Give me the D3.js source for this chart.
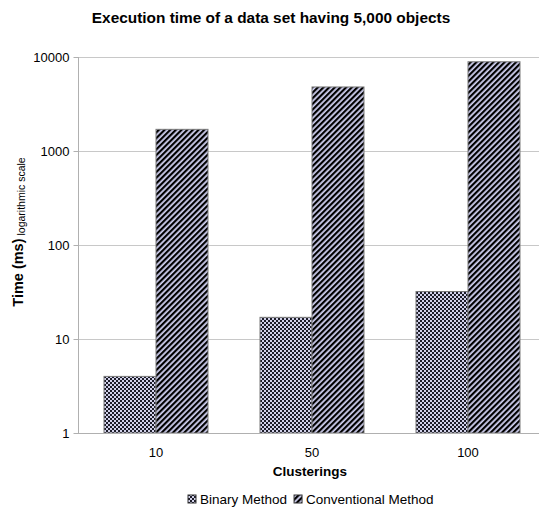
<!DOCTYPE html>
<html>
<head>
<meta charset="utf-8">
<script src="https://cdn.jsdelivr.net/npm/d3@7"></script>
<style>
  body { margin: 0; background: #fff; }
  text { font-family: "Liberation Sans", Arial, sans-serif; }
</style>
</head>
<body>
<div id="chart"></div>
<script>
// execution times (ms)
const clusterings = ["10", "50", "100"];
const seriesNames = ["Binary Method", "Conventional Method"];
const binaryTimes = [4, 17, 32];
const conventionalTimes = [1700, 4800, 8900];
const yTicks = [1, 10, 100, 1000, 10000];

const width = 539, height = 517;
const margin = {top: 57, bottom: 84, left: 78};
const step = 156; // the plot runs a little past the right edge of the picture

const data = clusterings.map((c, i) => ({
  cat: c,
  values: [binaryTimes[i], conventionalTimes[i]]
}));

const svg = d3.select("#chart").append("svg")
  .attr("width", width)
  .attr("height", height);

// fill patterns
const defs = svg.append("defs");
const checker = defs.append("pattern")
  .attr("id", "checker")
  .attr("width", 4).attr("height", 4)
  .attr("patternUnits", "userSpaceOnUse");
checker.append("rect").attr("width", 4).attr("height", 4).attr("fill", "#d2d2ea");
checker.append("rect").attr("x", 2).attr("y", 0).attr("width", 2).attr("height", 2).attr("fill", "#1c1c28");
checker.append("rect").attr("x", 0).attr("y", 2).attr("width", 2).attr("height", 2).attr("fill", "#1c1c28");

const stripes = defs.append("pattern")
  .attr("id", "stripes")
  .attr("width", 4).attr("height", 4)
  .attr("patternUnits", "userSpaceOnUse")
  .attr("patternTransform", "rotate(45)");
stripes.append("rect").attr("width", 4).attr("height", 4).attr("fill", "#d0d0f0");
stripes.append("rect").attr("width", 2.2).attr("height", 4).attr("fill", "#000");

const fills = ["url(#checker)", "url(#stripes)"];

const x = d3.scaleBand()
  .domain(clusterings)
  .range([margin.left, margin.left + step * clusterings.length])
  .paddingInner(0)
  .paddingOuter(0);

const xInner = d3.scaleBand()
  .domain([0, 1])
  .range([0, x.bandwidth()])
  .paddingOuter(0.5)
  .paddingInner(0);

const y = d3.scaleLog()
  .domain([1, 10000])
  .range([height - margin.bottom, margin.top]);

// gridlines
svg.append("g")
  .selectAll("line")
  .data(yTicks)
  .join("line")
  .attr("x1", margin.left)
  .attr("x2", width)
  .attr("y1", d => y(d) + 0.5)
  .attr("y2", d => y(d) + 0.5)
  .attr("stroke", "#c8c8c8");

// y axis
const yAxis = svg.append("g")
  .attr("transform", `translate(${margin.left + 0.5},0)`)
  .call(d3.axisLeft(y).tickValues(yTicks).tickFormat(d3.format("d")).tickSize(5).tickPadding(4))
  .call(g => g.selectAll("path, line").attr("stroke", "#b0b0b0"))
  .call(g => g.select(".domain").attr("d", `M0,${margin.top}V${height - margin.bottom}`));
yAxis.selectAll("text")
  .attr("font-size", 13)
  .attr("fill", "#000")
  .style("font-family", "'Liberation Sans', Arial, sans-serif");

// bars
svg.append("g")
  .selectAll("g")
  .data(data)
  .join("g")
  .attr("transform", d => `translate(${x(d.cat)},0)`)
  .selectAll("rect")
  .data(d => d.values.map((v, i) => ({v, i})))
  .join("rect")
  .attr("x", d => xInner(d.i))
  .attr("width", xInner.bandwidth())
  .attr("y", d => y(d.v))
  .attr("height", d => y(1) - y(d.v))
  .attr("fill", d => fills[d.i])
  .attr("stroke", "#7a7a7a")
  .attr("stroke-width", 1);

// x baseline
svg.append("line")
  .attr("x1", margin.left)
  .attr("x2", width)
  .attr("y1", y(1) + 0.5)
  .attr("y2", y(1) + 0.5)
  .attr("stroke", "#b0b0b0");

// x labels
svg.append("g")
  .selectAll("text")
  .data(clusterings)
  .join("text")
  .attr("x", d => x(d) + x.bandwidth() / 2)
  .attr("y", 457)
  .attr("text-anchor", "middle")
  .attr("font-size", 13)
  .text(d => d);

// title
svg.append("text")
  .attr("x", 271)
  .attr("y", 23)
  .attr("text-anchor", "middle")
  .attr("font-size", 15.4)
  .attr("font-weight", "bold")
  .text("Execution time of a data set having 5,000 objects");

// x axis title
svg.append("text")
  .attr("x", 310)
  .attr("y", 476)
  .attr("text-anchor", "middle")
  .attr("font-size", 13.5)
  .attr("font-weight", "bold")
  .text("Clusterings");

// y axis title
const yTitle = svg.append("text")
  .attr("transform", "translate(23,232) rotate(-90)")
  .attr("text-anchor", "middle");
yTitle.append("tspan")
  .attr("font-size", 14.5)
  .attr("font-weight", "bold")
  .text("Time (ms)");
yTitle.append("tspan")
  .attr("font-size", 10.5)
  .attr("dx", 3)
  .attr("dy", 2)
  .text("logarithmic scale");

// legend, laid out from measured text widths
const legend = svg.append("g").attr("transform", "translate(0,504)");
let lx = 188;
seriesNames.forEach((name, i) => {
  const g = legend.append("g").attr("transform", `translate(${lx},0)`);
  g.append("rect")
    .attr("x", 0).attr("y", -9)
    .attr("width", 8).attr("height", 8)
    .attr("fill", fills[i])
    .attr("stroke", "#333");
  const t = g.append("text")
    .attr("x", 12)
    .attr("y", 0)
    .attr("font-size", 13.5)
    .text(name);
  lx += 12 + t.node().getComputedTextLength() + 7;
});
</script>
</body>
</html>
